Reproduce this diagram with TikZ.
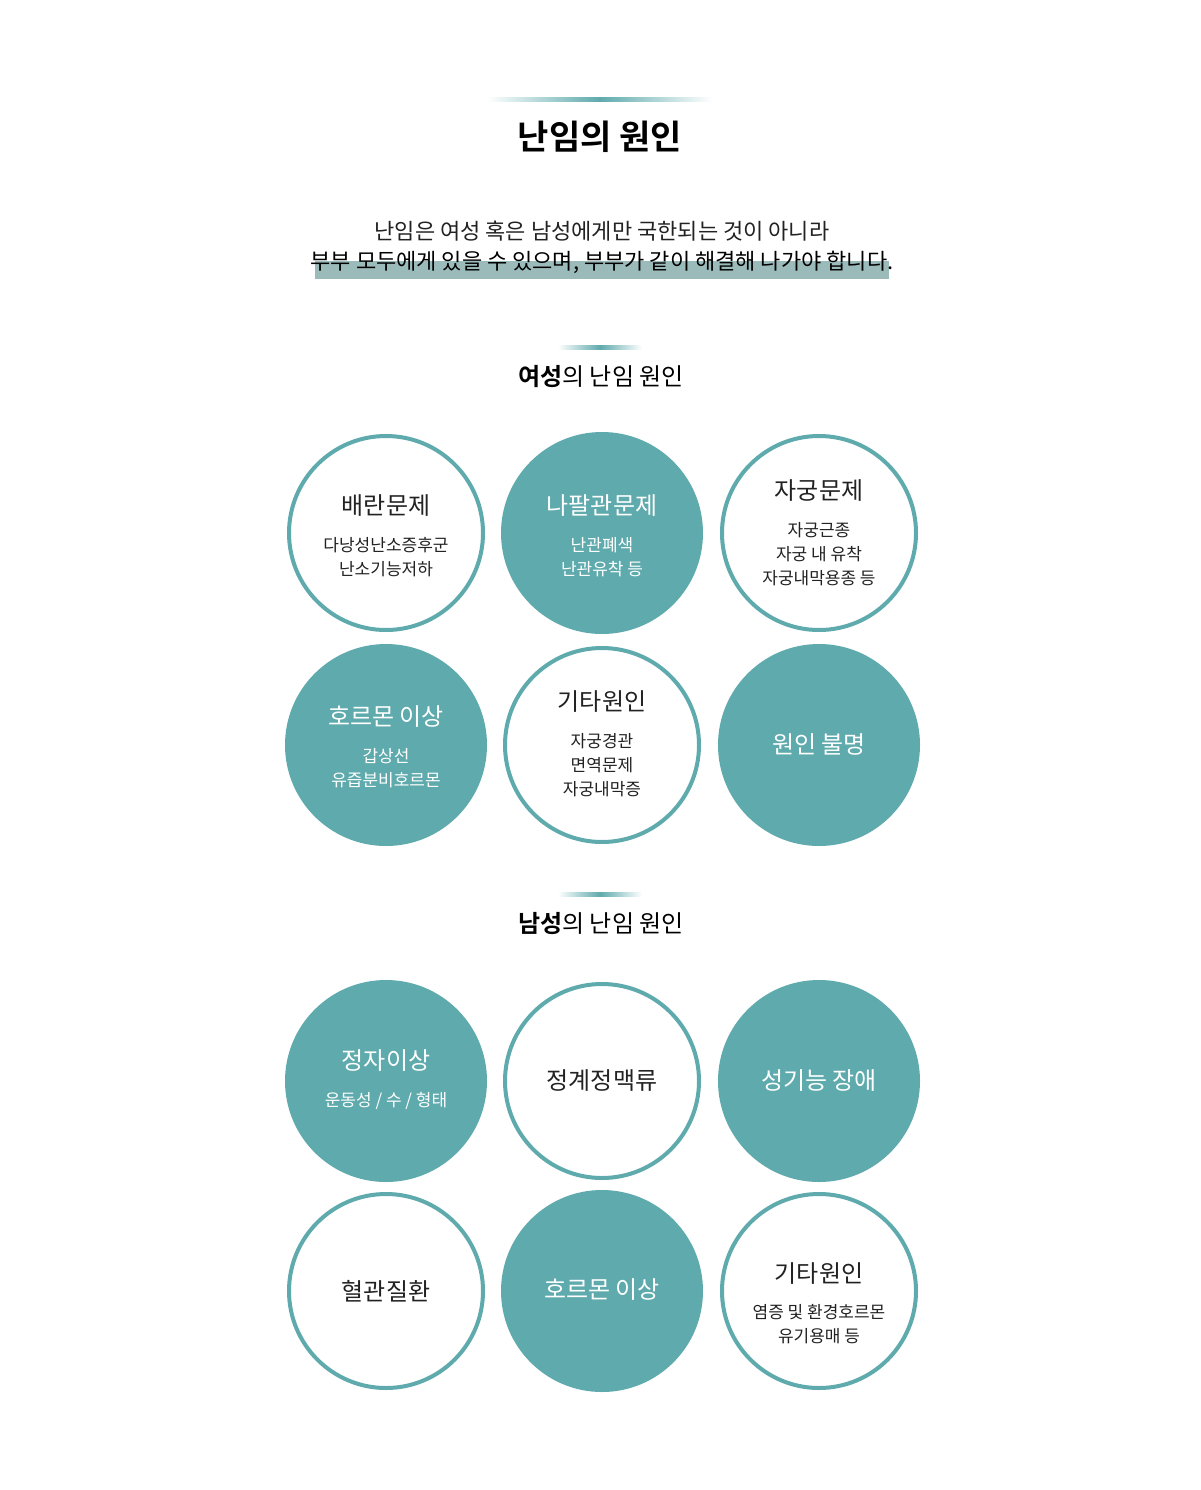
\documentclass[tikz,border=0pt]{standalone}
\usepackage{fontspec}
\setmainfont{Noto Sans CJK KR}
\newfontfamily\kbold{Noto Sans CJK KR Bold}
\definecolor{tealc}{HTML}{5FAAAD}
\definecolor{barc}{HTML}{9BBBBA}
\definecolor{txt}{HTML}{222222}
\begin{document}
\begin{tikzpicture}[x=1pt,y=-1pt,
  ring/.style={circle,draw=tealc,line width=4pt,fill=white,minimum size=194pt,inner sep=0pt},
  disc/.style={circle,fill=tealc,minimum size=202pt,inner sep=0pt},
  ctitle/.style={font=\fontsize{24}{28}\selectfont,text=txt,align=center},
  csub/.style={font=\fontsize{17}{24}\selectfont,text=txt,align=center},
  wtitle/.style={font=\fontsize{24}{28}\selectfont,text=white,align=center},
  wsub/.style={font=\fontsize{17}{24}\selectfont,text=white,align=center}]
\useasboundingbox (0,0) rectangle (1200,1490);
\fill[white] (0,0) rectangle (1200,1490);
% header lines
\shade[left color=white,right color=white,middle color=tealc] (487,98) rectangle (712,102);
\shade[left color=white,right color=white,middle color=tealc] (558,345) rectangle (642,349);
\shade[left color=white,right color=white,middle color=tealc] (558,892) rectangle (642,896);
\node[font=\kbold\fontsize{34}{40}\selectfont,text=black] (title) at (600,137) {난임의 원인};
\fill[barc] (315,261) rectangle (889,279);
\node[font=\fontsize{22}{26}\selectfont,text=txt] (l1) at (602,231) {난임은 여성 혹은 남성에게만 국한되는 것이 아니라};
\node[font=\fontsize{22}{26}\selectfont,text=black] (l2) at (602,262) {부부 모두에게 있을 수 있으며, 부부가 같이 해결해 나가야 합니다.};
\node[font=\fontsize{24}{28}\selectfont,text=black] (fem) at (601,377) {{\kbold 여성}의 난임 원인};
\node[font=\fontsize{24}{28}\selectfont,text=black] (mal) at (601,924) {{\kbold 남성}의 난임 원인};
% female
\node[ring] (f1) at (386,533) {};
\node[ctitle] at (386,506) {배란문제};
\node[csub] at (386,557) {다낭성난소증후군\\난소기능저하};
\node[disc] (f2) at (602,533) {};
\node[wtitle] at (602,506) {나팔관문제};
\node[wsub] at (602,557) {난관폐색\\난관유착 등};
\node[ring] (f3) at (819,533) {};
\node[ctitle] at (819,491) {자궁문제};
\node[csub] at (819,554) {자궁근종\\자궁 내 유착\\자궁내막용종 등};
\node[disc] (f4) at (386,745) {};
\node[wtitle] at (386,717) {호르몬 이상};
\node[wsub] at (386,768) {갑상선\\유즙분비호르몬};
\node[ring] (f5) at (602,745) {};
\node[ctitle] at (602,702) {기타원인};
\node[csub] at (602,765) {자궁경관\\면역문제\\자궁내막증};
\node[disc] (f6) at (819,745) {};
\node[wtitle] at (819,744) {원인 불명};
% male
\node[disc] (m1) at (386,1081) {};
\node[wtitle] at (386,1061) {정자이상};
\node[wsub] at (386,1101) {운동성 / 수 / 형태};
\node[ring] (m2) at (602,1081) {};
\node[ctitle] at (602,1080) {정계정맥류};
\node[disc] (m3) at (819,1081) {};
\node[wtitle] at (819,1080) {성기능 장애};
\node[ring] (m4) at (386,1291) {};
\node[ctitle] at (386,1291) {혈관질환};
\node[disc] (m5) at (602,1291) {};
\node[wtitle] at (602,1290) {호르몬 이상};
\node[ring] (m6) at (819,1291) {};
\node[ctitle] at (819,1273) {기타원인};
\node[csub] at (819,1324) {염증 및 환경호르몬\\유기용매 등};
\end{tikzpicture}
\end{document}
